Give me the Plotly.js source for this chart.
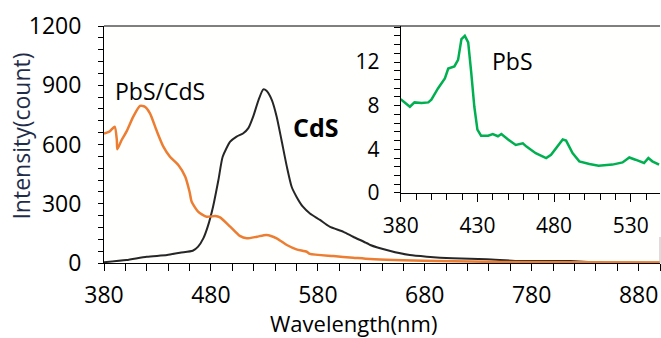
<!DOCTYPE html>
<html>
<head>
<meta charset="utf-8">
<script src="https://cdn.plot.ly/plotly-3.0.1.min.js"></script>
<style>html,body{margin:0;padding:0;background:#fff;}#chart{width:661px;height:338px;}</style>
</head>
<body>
<div id="chart"></div>
<script>
// CdS (black) emission spectrum
const cdsWavelength = [380, 401, 420, 439, 451, 463, 468, 473, 477, 482, 487, 491, 498, 504, 510, 515, 519.5, 524.5, 529, 532, 537, 541.5, 546, 551, 555.5, 560, 566, 572.6, 582, 591, 604, 613, 626, 629, 647, 666, 682, 706, 738, 769, 816, 841, 900];
const cdsIntensity  = [4, 15, 32, 40, 52, 62, 83, 126, 184, 285, 420, 538, 614, 640, 656, 683, 741, 825, 879, 872, 825, 741, 623, 488, 386, 336, 285, 251, 218, 184, 158, 133, 100, 91, 62, 40, 32, 24, 19, 10, 10, 3, 1];

// PbS/CdS (orange) emission spectrum
const pbscdsWavelength = [380, 385, 390, 392, 392.5, 396.5, 401, 407.4, 413.7, 418, 423, 429, 435.5, 441.7, 449.5, 456, 460, 462, 468, 476, 484, 488.5, 498, 507, 513.5, 523, 532, 541.5, 551, 560, 569.6, 572.6, 594.5, 613, 629, 691, 753, 900];
const pbscdsIntensity  = [656, 665, 690, 623, 576, 623, 665, 741, 795, 792, 758, 673, 589, 538, 496, 437, 361, 310, 260, 234, 238, 231, 184, 137, 125, 133, 142, 125, 91, 69, 57, 46, 35, 27, 20, 10, 5, 2];

// PbS (green) inset spectrum
const pbsWavelength = [380, 382.8, 386, 389, 393.6, 398, 400, 404.4, 408.8, 411, 415, 417.4, 419.6, 421.8, 424, 426, 428, 430, 432.4, 437, 440, 443.4, 445.6, 450, 455, 459.6, 462, 468, 474.8, 478, 481.3, 485.6, 487.8, 492, 496.4, 503, 509, 518, 524.6, 529, 533, 538.6, 541.4, 544, 548.4];
const pbsIntensity  = [8.6, 8.25, 7.9, 8.3, 8.25, 8.3, 8.55, 9.6, 10.5, 11.4, 11.6, 12.2, 14.1, 14.4, 13.8, 11.0, 7.9, 5.8, 5.25, 5.25, 5.4, 5.2, 5.4, 4.9, 4.4, 4.55, 4.25, 3.65, 3.2, 3.5, 4.1, 4.9, 4.8, 3.65, 2.9, 2.65, 2.5, 2.6, 2.8, 3.25, 3.05, 2.75, 3.2, 2.9, 2.6];

// Axis ranges
const mainXRange = [380, 900];
const mainYRange = [0, 1200];
const insetXRange = [380, 549];
const insetYRange = [0, 15.3];

const labelPbsCds = 'PbS/CdS';
const labelCds = 'CdS';
const labelPbs = 'PbS';
const xTitle = 'Wavelength(nm)';
const yTitle = 'Intensity(count)';

const FONT = '"Open Sans", "DejaVu Sans", sans-serif';
const ORANGE = '#ED7D31';
const BLACK = '#262626';
const GREEN = '#00B050';

const traces = [
  {x: cdsWavelength, y: cdsIntensity, type: 'scatter', mode: 'lines', name: labelCds,
   line: {color: BLACK, width: 2, shape: 'spline', smoothing: 0.6}, xaxis: 'x', yaxis: 'y', hoverinfo: 'skip'},
  {x: pbscdsWavelength, y: pbscdsIntensity, type: 'scatter', mode: 'lines', name: labelPbsCds,
   line: {color: ORANGE, width: 2.5, shape: 'spline', smoothing: 0.6}, xaxis: 'x', yaxis: 'y', hoverinfo: 'skip'},
  // empty trace for the white cover panel behind the inset
  {x: [], y: [], type: 'scatter', mode: 'lines', xaxis: 'x2', yaxis: 'y2', showlegend: false, hoverinfo: 'skip'},
  {x: pbsWavelength, y: pbsIntensity, type: 'scatter', mode: 'lines', name: labelPbs,
   line: {color: GREEN, width: 2.5}, xaxis: 'x3', yaxis: 'y3', hoverinfo: 'skip'}
];

const tickCommon = {showgrid: false, zeroline: false, showline: true, linecolor: '#000', linewidth: 1,
  ticks: 'outside', tickcolor: '#000', tickwidth: 1};

const layout = {
  width: 661, height: 338,
  margin: {l: 104, r: 1, t: 26, b: 75, pad: 0},
  paper_bgcolor: '#ffffff',
  plot_bgcolor: '#fffffe',
  showlegend: false,
  font: {family: FONT, color: '#000'},
  xaxis: Object.assign({}, tickCommon, {
    domain: [0, 1], range: mainXRange, tick0: 380, dtick: 100, ticklen: 7,
    ticklabelstandoff: 4,
    tickfont: {family: FONT, size: 23, color: '#000'},
    minor: {dtick: 20, tick0: 380, ticks: 'outside', ticklen: 7, tickcolor: '#000', showgrid: false},
    anchor: 'y'
  }),
  yaxis: Object.assign({}, tickCommon, {
    domain: [0, 1], range: mainYRange, tick0: 0, dtick: 300, ticklen: 5,
    ticklabelstandoff: 12,
    tickfont: {family: FONT, size: 23, color: '#000'},
    minor: {dtick: 60, tick0: 0, ticks: 'outside', ticklen: 5, tickcolor: '#000', showgrid: false},
    anchor: 'x'
  }),
  xaxis2: {domain: [0.4532, 1], range: [0, 1], visible: false, anchor: 'y2', fixedrange: true},
  yaxis2: {domain: [0.1097, 1], range: [0, 1], visible: false, anchor: 'x2', fixedrange: true},
  xaxis3: Object.assign({}, tickCommon, {
    domain: [0.5336, 1], range: insetXRange, tick0: 380, dtick: 50, ticklen: 8,
    ticklabelstandoff: 6,
    tickfont: {family: FONT, size: 21, color: '#000'},
    minor: {dtick: 10, tick0: 380, ticks: 'outside', ticklen: 6, tickcolor: '#000', showgrid: false},
    anchor: 'y3'
  }),
  yaxis3: Object.assign({}, tickCommon, {
    domain: [0.2954, 1], range: insetYRange, tick0: 0, dtick: 4, ticklen: 6,
    ticklabelstandoff: 10,
    tickfont: {family: FONT, size: 21, color: '#000'},
    minor: {dtick: 0.8, tick0: 0, ticks: 'outside', ticklen: 6, tickcolor: '#000', showgrid: false},
    anchor: 'x3'
  }),
  shapes: [
    {type: 'line', xref: 'paper', yref: 'paper', x0: 0, x1: 1, y0: 1, y1: 1, layer: 'above',
     line: {color: '#000', width: 1}},
    {type: 'line', xref: 'paper', yref: 'paper', x0: 1, x1: 1, y0: 0, y1: 0.11, layer: 'above',
     line: {color: '#bbbbbb', width: 1}}
  ],
  annotations: [
    {text: labelPbsCds, xref: 'x', yref: 'y', x: 388, y: 873, xanchor: 'left', yanchor: 'middle',
     showarrow: false, font: {family: FONT, size: 23, color: '#000'}},
    {text: '<b>' + labelCds + '</b>', xref: 'x', yref: 'y', x: 555, y: 691, xanchor: 'left', yanchor: 'middle',
     showarrow: false, font: {family: FONT, size: 25, color: '#000'}},
    {text: labelPbs, xref: 'x3', yref: 'y3', x: 438, y: 12.1, xanchor: 'left', yanchor: 'middle',
     showarrow: false, font: {family: FONT, size: 23, color: '#000'}},
    {text: xTitle, xref: 'paper', yref: 'paper', x: 0.4487, y: -0.253, xanchor: 'center', yanchor: 'middle',
     showarrow: false, font: {family: FONT, size: 22, color: '#000'}},
    {text: yTitle, xref: 'paper', yref: 'paper', x: -0.150, y: 0.536, xanchor: 'center', yanchor: 'middle',
     textangle: -90, showarrow: false, font: {family: FONT, size: 23, color: '#1f2d4a'}}
  ]
};

Plotly.newPlot('chart', traces, layout, {displayModeBar: false, staticPlot: true});
</script>
</body>
</html>
